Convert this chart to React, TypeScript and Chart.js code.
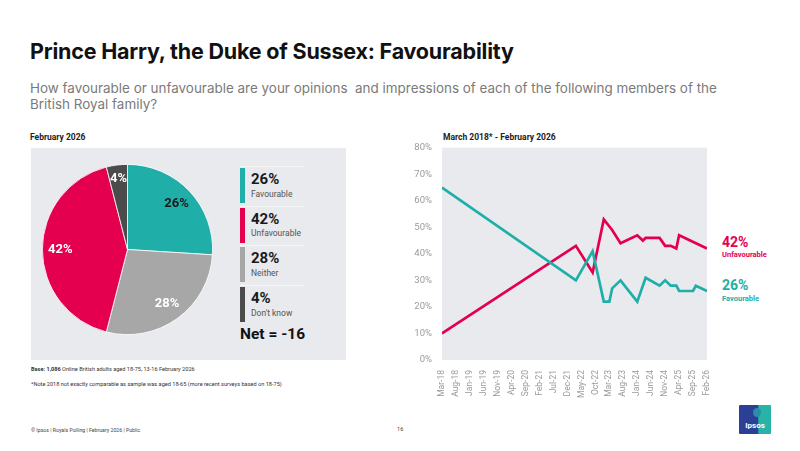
import React, { useEffect, useRef } from "react";
import { Chart, registerables } from "chart.js";

Chart.register(...registerables);

const TEAL = "#1FAEA8";
const RED = "#E5004F";
const GREY = "#A7A7A7";
const DARK = "#4B4B4B";
const PANEL = "#E8EAEE";

// Pie (February 2026)
const pieLabels = ["Favourable", "Neither", "Unfavourable", "Don't know"];
const pieValues = [26, 28, 42, 4];
const pieColors = [TEAL, GREY, RED, DARK];
const pieTextColors = ["#1a1a1a", "#ffffff", "#ffffff", "#ffffff"];
const legendOrder = ["Favourable", "Unfavourable", "Neither", "Don't know"];
const netScore = -16;

// Trend (March 2018 - February 2026)
const surveyDates = [
  "2018-03", "2022-03", "2022-09", "2023-01", "2023-03", "2023-04", "2023-07",
  "2024-01", "2024-03", "2024-04", "2024-09", "2024-11", "2025-01", "2025-03",
  "2025-04", "2025-09", "2025-10", "2026-02",
];
const favourable = [65, 30, 41, 22, 22, 27, 30, 22, null, 31, 28, 30, 28, 28, 26, 26, 28, 26];
const unfavourable = [10, 43, 33, 53, null, 49, 44, 47, 45, 46, 46, 43, 43, 42, 47, null, null, 42];
const xTickLabels = [
  "Mar-18", "Aug-18", "Jan-19", "Jun-19", "Nov-19", "Apr-20", "Sep-20", "Feb-21",
  "Jul-21", "Dec-21", "May-22", "Oct-22", "Mar-23", "Aug-23", "Jan-24", "Jun-24",
  "Nov-24", "Apr-25", "Sep-25", "Feb-26",
];
const yTickValues = [0, 10, 20, 30, 40, 50, 60, 70, 80];

const START_YEAR = 2018;
const START_MONTH = 3;
function monthIndex(d: string): number {
  const [y, m] = d.split("-").map(Number);
  return (y - START_YEAR) * 12 + (m - START_MONTH);
}

const FONT = "Roboto, 'DejaVu Sans', sans-serif";

const areaBg = {
  id: "areaBg",
  beforeDraw(chart: any) {
    const { ctx, chartArea } = chart;
    if (!chartArea) return;
    ctx.save();
    ctx.fillStyle = PANEL;
    ctx.fillRect(chartArea.left, chartArea.top, chartArea.right - chartArea.left, chartArea.bottom - chartArea.top);
    ctx.restore();
  },
};

const pieLabelPlugin = {
  id: "pieLabelPlugin",
  afterDatasetsDraw(chart: any) {
    const ctx = chart.ctx;
    const meta = chart.getDatasetMeta(0);
    ctx.save();
    ctx.font = `bold 13px ${FONT}`;
    ctx.textAlign = "center";
    ctx.textBaseline = "middle";
    meta.data.forEach((arc: any, i: number) => {
      const p = arc.getProps(["x", "y", "startAngle", "endAngle", "outerRadius"], true);
      const mid = (p.startAngle + p.endAngle) / 2;
      const r = p.outerRadius * (pieValues[i] < 10 ? 0.84 : 0.79);
      ctx.fillStyle = pieTextColors[i];
      ctx.fillText(`${pieValues[i]}%`, p.x + Math.cos(mid) * r, p.y + Math.sin(mid) * r);
    });
    ctx.restore();
  },
};

function PieChart() {
  const ref = useRef<HTMLCanvasElement>(null);
  useEffect(() => {
    const chart = new Chart(ref.current as HTMLCanvasElement, {
      type: "pie",
      data: {
        labels: pieLabels,
        datasets: [
          {
            data: pieValues,
            backgroundColor: pieColors,
            borderColor: "#ffffff",
            borderWidth: 0.8,
          },
        ],
      },
      options: {
        animation: false,
        responsive: true,
        maintainAspectRatio: false,
        layout: { padding: 0 },
        plugins: { legend: { display: false }, tooltip: { enabled: false } },
      },
      plugins: [pieLabelPlugin],
    } as any);
    return () => chart.destroy();
  }, []);
  return <canvas ref={ref} />;
}

function LineChart() {
  const ref = useRef<HTMLCanvasElement>(null);
  useEffect(() => {
    const xs = surveyDates.map(monthIndex);
    const chart = new Chart(ref.current as HTMLCanvasElement, {
      type: "line",
      data: {
        datasets: [
          {
            label: "Favourable",
            data: xs.map((x, i) => ({ x, y: favourable[i] })),
            borderColor: TEAL,
            borderWidth: 2.7,
            pointRadius: 0,
            tension: 0,
            spanGaps: true,
          },
          {
            label: "Unfavourable",
            data: xs.map((x, i) => ({ x, y: unfavourable[i] })),
            borderColor: RED,
            borderWidth: 2.7,
            pointRadius: 0,
            tension: 0,
            spanGaps: true,
          },
        ],
      },
      options: {
        animation: false,
        responsive: true,
        maintainAspectRatio: false,
        layout: { padding: { top: 0, right: 13, left: 0, bottom: 0 } },
        plugins: { legend: { display: false }, tooltip: { enabled: false } },
        scales: {
          x: {
            type: "linear",
            min: 0,
            max: (xTickLabels.length - 1) * 5,
            grid: { display: false },
            border: { display: false },
            afterBuildTicks: (s: any) => {
              s.ticks = xTickLabels.map((_, i) => ({ value: i * 5 }));
            },
            afterFit: (s: any) => {
              s.height = 55;
            },
            ticks: {
              autoSkip: false,
              maxRotation: 90,
              minRotation: 90,
              padding: 2,
              color: "#9a9a9a",
              font: { family: FONT, size: 8.5 },
              callback: (v: any) => xTickLabels[Math.round(Number(v) / 5)] ?? "",
            },
          },
          y: {
            min: yTickValues[0],
            max: yTickValues[yTickValues.length - 1],
            grid: { display: false },
            border: { display: false },
            afterBuildTicks: (s: any) => {
              s.ticks = yTickValues.map((v) => ({ value: v }));
            },
            afterFit: (s: any) => {
              s.width = 42;
            },
            ticks: {
              padding: 2,
              color: "#9a9a9a",
              font: { family: FONT, size: 9.5 },
              callback: (v: any) => `${v}%`,
            },
          },
        },
      },
      plugins: [areaBg],
    } as any);
    return () => chart.destroy();
  }, []);
  return <canvas ref={ref} />;
}

const abs = (left: number, cy: number, extra: React.CSSProperties = {}): React.CSSProperties => ({
  position: "absolute",
  left,
  top: cy,
  transform: "translateY(-50%)",
  lineHeight: 1,
  whiteSpace: "nowrap",
  fontFamily: FONT,
  ...extra,
});

export default function App() {
  const lastFav = favourable[favourable.length - 1];
  const lastUnfav = unfavourable[unfavourable.length - 1];
  return (
    <div
      style={{
        position: "absolute",
        left: 0,
        top: 0,
        width: 800,
        height: 451,
        background: "#ffffff",
        overflow: "hidden",
        fontFamily: FONT,
      }}
    >
      <div style={abs(30, 52, { fontFamily: "Inter, sans-serif", fontWeight: 700, fontSize: 21.5, color: "#111", letterSpacing: -0.2 })}>
        Prince Harry, the Duke of Sussex: Favourability
      </div>
      <div
        style={{
          position: "absolute",
          left: 30,
          top: 79.5,
          fontFamily: "Inter, sans-serif",
          fontSize: 13.45,
          lineHeight: "16.5px",
          color: "#7a7a7a",
          whiteSpace: "pre",
        }}
      >
        {"How favourable or unfavourable are your opinions  and impressions of each of the following members of the\nBritish Royal family?"}
      </div>

      <div style={abs(30, 137, { fontWeight: 700, fontSize: 8.5, color: "#222" })}>February 2026</div>
      <div style={abs(443, 137, { fontWeight: 700, fontSize: 8.5, color: "#222" })}>March 2018* - February 2026</div>

      {/* pie panel */}
      <div style={{ position: "absolute", left: 31, top: 148, width: 315, height: 212, background: PANEL }} />
      <div style={{ position: "absolute", left: 41.5, top: 163.5, width: 171, height: 171 }}>
        <PieChart />
      </div>

      {legendOrder.map((name, k) => {
        const i = pieLabels.indexOf(name);
        const top = 167 + k * 39.7;
        return (
          <React.Fragment key={name}>
            <div style={{ position: "absolute", left: 240, top: top - 1, width: 64, height: 1, background: "#f6f6f6" }} />
            <div style={{ position: "absolute", left: 240, top: top + 1, width: 5, height: 35, background: pieColors[i] }} />
            <div style={abs(251, top + 12, { fontWeight: 700, fontSize: 15, color: "#1a1a1a" })}>{`${pieValues[i]}%`}</div>
            <div style={abs(251, top + 26.5, { fontSize: 8.5, color: "#555" })}>{name}</div>
          </React.Fragment>
        );
      })}
      <div style={abs(240, 335, { fontWeight: 700, fontSize: 15.5, color: "#111" })}>{`Net = ${netScore}`}</div>

      {/* line chart */}
      <div style={{ position: "absolute", left: 400, top: 140, width: 320, height: 275 }}>
        <LineChart />
      </div>
      <div style={abs(722, 242, { fontWeight: 700, fontSize: 14, color: RED })}>{`${lastUnfav}%`}</div>
      <div style={abs(722, 255, { fontWeight: 700, fontSize: 7.5, color: RED })}>Unfavourable</div>
      <div style={abs(722, 285, { fontWeight: 700, fontSize: 14, color: TEAL })}>{`${lastFav}%`}</div>
      <div style={abs(722, 299, { fontWeight: 700, fontSize: 7.5, color: TEAL })}>Favourable</div>

      {/* footnotes */}
      <div style={abs(31, 370, { fontSize: 5.6, color: "#333" })}>
        <b>Base: 1,086</b> Online British adults aged 18-75, 13-16 February 2026
      </div>
      <div style={abs(31, 385, { fontSize: 5.6, color: "#333" })}>
        *Note 2018 not exactly comparable as sample was aged 18-65 (more recent surveys based on 18-75)
      </div>
      <div style={abs(31, 431, { fontSize: 5.2, color: "#444" })}>© Ipsos | Royals Polling | February 2026 | Public</div>
      <div style={abs(397, 430, { fontSize: 5.6, color: "#444" })}>16</div>

      {/* logo */}
      <div
        style={{
          position: "absolute",
          left: 739,
          top: 405,
          width: 32,
          height: 29,
          background: "linear-gradient(90deg, #2C3F97 0%, #2C3F97 58%, #27B3A7 62%, #27B3A7 100%)",
          borderRadius: 1,
        }}
      >
        <div style={{ position: "absolute", left: 14, top: 3, width: 8, height: 9, borderRadius: "50%", background: "#2A8FA6" }} />
        <div
          style={{
            position: "absolute",
            left: 0,
            width: 32,
            top: 17,
            textAlign: "center",
            color: "#fff",
            fontWeight: 700,
            fontSize: 8,
            lineHeight: 1,
            fontFamily: FONT,
          }}
        >
          Ipsos
        </div>
      </div>
    </div>
  );
}
